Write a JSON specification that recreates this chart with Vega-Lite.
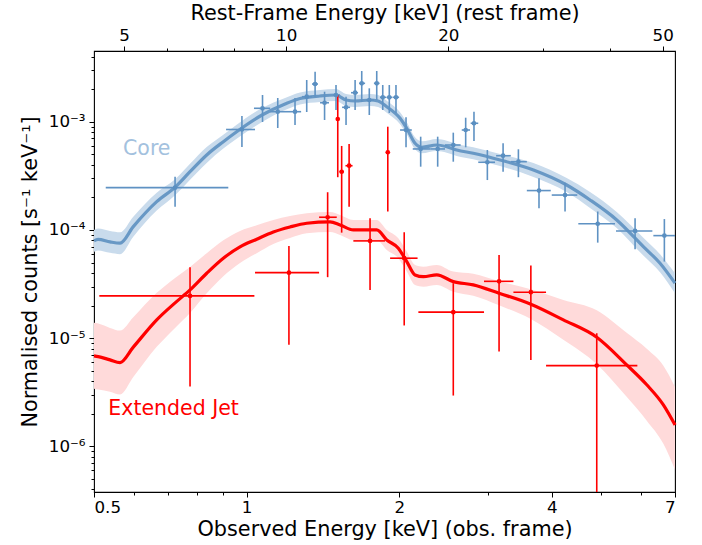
{
  "$schema": "https://vega.github.io/schema/vega-lite/v6.json",
  "width": 581,
  "height": 441,
  "autosize": {"type": "none"},
  "padding": {"left": 94, "top": 51, "right": 27, "bottom": 53},
  "background": "white",
  "config": {
    "view": {"stroke": "black", "strokeWidth": 1.1},
    "font": "DejaVu Sans",
    "axis": {"grid": false, "domain": false, "tickColor": "black", "tickWidth": 1, "labelColor": "black", "titleColor": "black", "labelFont": "DejaVu Sans", "titleFont": "DejaVu Sans", "labelFontSize": 16.7, "titleFontSize": 20.8, "titleFontWeight": "normal"}
  },
  "datasets": {
    "model": [
      {"comp": "Core", "E": 0.5, "y": 7.92e-5, "lo": 6.27e-5, "hi": 1.0e-4},
      {"comp": "Core", "E": 0.5092, "y": 8.17e-5, "lo": 6.47e-5, "hi": 1.032e-4},
      {"comp": "Core", "E": 0.5377, "y": 7.75e-5, "lo": 6.14e-5, "hi": 9.79e-5},
      {"comp": "Core", "E": 0.5627, "y": 7.54e-5, "lo": 5.97e-5, "hi": 9.52e-5},
      {"comp": "Core", "E": 0.5977, "y": 1.073e-4, "lo": 8.67e-5, "hi": 1.327e-4},
      {"comp": "Core", "E": 0.6648, "y": 1.826e-4, "lo": 1.508e-4, "hi": 2.211e-4},
      {"comp": "Core", "E": 0.7226, "y": 2.479e-4, "lo": 2.092e-4, "hi": 2.938e-4},
      {"comp": "Core", "E": 0.7734, "y": 3.45e-4, "lo": 2.91e-4, "hi": 4.09e-4},
      {"comp": "Core", "E": 0.8343, "y": 4.93e-4, "lo": 4.16e-4, "hi": 5.84e-4},
      {"comp": "Core", "E": 0.8997, "y": 6.54e-4, "lo": 5.64e-4, "hi": 7.59e-4},
      {"comp": "Core", "E": 0.9559, "y": 8.08e-4, "lo": 6.97e-4, "hi": 9.37e-4},
      {"comp": "Core", "E": 1.0727, "y": 1.153e-3, "lo": 9.94e-4, "hi": 1.337e-3},
      {"comp": "Core", "E": 1.1909, "y": 1.457e-3, "lo": 1.283e-3, "hi": 1.655e-3},
      {"comp": "Core", "E": 1.275, "y": 1.637e-3, "lo": 1.441e-3, "hi": 1.86e-3},
      {"comp": "Core", "E": 1.396, "y": 1.727e-3, "lo": 1.52e-3, "hi": 1.962e-3},
      {"comp": "Core", "E": 1.501, "y": 1.764e-3, "lo": 1.553e-3, "hi": 2.004e-3},
      {"comp": "Core", "E": 1.571, "y": 1.586e-3, "lo": 1.396e-3, "hi": 1.802e-3},
      {"comp": "Core", "E": 1.637, "y": 1.553e-3, "lo": 1.367e-3, "hi": 1.764e-3},
      {"comp": "Core", "E": 1.752, "y": 1.586e-3, "lo": 1.396e-3, "hi": 1.802e-3},
      {"comp": "Core", "E": 1.817, "y": 1.553e-3, "lo": 1.367e-3, "hi": 1.764e-3},
      {"comp": "Core", "E": 1.89, "y": 1.376e-3, "lo": 1.211e-3, "hi": 1.563e-3},
      {"comp": "Core", "E": 2.008, "y": 1.075e-3, "lo": 9.46e-4, "hi": 1.221e-3},
      {"comp": "Core", "E": 2.07, "y": 8.69e-4, "lo": 7.65e-4, "hi": 9.87e-4},
      {"comp": "Core", "E": 2.149, "y": 6.32e-4, "lo": 5.56e-4, "hi": 7.18e-4},
      {"comp": "Core", "E": 2.216, "y": 5.8e-4, "lo": 5.11e-4, "hi": 6.59e-4},
      {"comp": "Core", "E": 2.372, "y": 6.09e-4, "lo": 5.36e-4, "hi": 6.92e-4},
      {"comp": "Core", "E": 2.482, "y": 5.87e-4, "lo": 5.17e-4, "hi": 6.67e-4},
      {"comp": "Core", "E": 2.597, "y": 5.48e-4, "lo": 4.82e-4, "hi": 6.23e-4},
      {"comp": "Core", "E": 2.8, "y": 5.11e-4, "lo": 4.5e-4, "hi": 5.8e-4},
      {"comp": "Core", "E": 3.162, "y": 4.43e-4, "lo": 3.9e-4, "hi": 5.03e-4},
      {"comp": "Core", "E": 3.68, "y": 3.58e-4, "lo": 3.09e-4, "hi": 4.15e-4},
      {"comp": "Core", "E": 4.28, "y": 2.6e-4, "lo": 2.24e-4, "hi": 3.02e-4},
      {"comp": "Core", "E": 4.759, "y": 1.892e-4, "lo": 1.597e-4, "hi": 2.242e-4},
      {"comp": "Core", "E": 5.372, "y": 1.237e-4, "lo": 1.044e-4, "hi": 1.466e-4},
      {"comp": "Core", "E": 6.062, "y": 7.01e-5, "lo": 5.79e-5, "hi": 8.49e-5},
      {"comp": "Core", "E": 6.54, "y": 4.92e-5, "lo": 4.06e-5, "hi": 5.96e-5},
      {"comp": "Core", "E": 7.0, "y": 3.22e-5, "lo": 2.6e-5, "hi": 3.98e-5},
      {"comp": "Extended Jet", "E": 0.5, "y": 6.87e-6, "lo": 3.41e-6, "hi": 1.386e-5},
      {"comp": "Extended Jet", "E": 0.5099, "y": 6.76e-6, "lo": 3.35e-6, "hi": 1.363e-5},
      {"comp": "Extended Jet", "E": 0.5377, "y": 6.3e-6, "lo": 3.19e-6, "hi": 1.244e-5},
      {"comp": "Extended Jet", "E": 0.5627, "y": 5.95e-6, "lo": 3.01e-6, "hi": 1.175e-5},
      {"comp": "Extended Jet", "E": 0.5977, "y": 8.26e-6, "lo": 4.37e-6, "hi": 1.563e-5},
      {"comp": "Extended Jet", "E": 0.6648, "y": 1.476e-5, "lo": 8.31e-6, "hi": 2.621e-5},
      {"comp": "Extended Jet", "E": 0.7226, "y": 2.118e-5, "lo": 1.244e-5, "hi": 3.605e-5},
      {"comp": "Extended Jet", "E": 0.7734, "y": 2.79e-5, "lo": 1.711e-5, "hi": 4.55e-5},
      {"comp": "Extended Jet", "E": 0.8343, "y": 3.98e-5, "lo": 2.6e-5, "hi": 6.09e-5},
      {"comp": "Extended Jet", "E": 0.8997, "y": 5.48e-5, "lo": 3.74e-5, "hi": 8.03e-5},
      {"comp": "Extended Jet", "E": 0.9705, "y": 6.97e-5, "lo": 4.96e-5, "hi": 9.79e-5},
      {"comp": "Extended Jet", "E": 1.047, "y": 8.21e-5, "lo": 6.1e-5, "hi": 1.106e-4},
      {"comp": "Extended Jet", "E": 1.129, "y": 9.58e-5, "lo": 7.42e-5, "hi": 1.237e-4},
      {"comp": "Extended Jet", "E": 1.218, "y": 1.066e-4, "lo": 8.44e-5, "hi": 1.346e-4},
      {"comp": "Extended Jet", "E": 1.314, "y": 1.153e-4, "lo": 9.32e-5, "hi": 1.426e-4},
      {"comp": "Extended Jet", "E": 1.461, "y": 1.186e-4, "lo": 9.59e-5, "hi": 1.467e-4},
      {"comp": "Extended Jet", "E": 1.529, "y": 1.112e-4, "lo": 8.99e-5, "hi": 1.376e-4},
      {"comp": "Extended Jet", "E": 1.624, "y": 1.0e-4, "lo": 8.08e-5, "hi": 1.237e-4},
      {"comp": "Extended Jet", "E": 1.806, "y": 1.0e-4, "lo": 8.08e-5, "hi": 1.237e-4},
      {"comp": "Extended Jet", "E": 1.89, "y": 8.08e-5, "lo": 6.53e-5, "hi": 9.99e-5},
      {"comp": "Extended Jet", "E": 1.992, "y": 6.78e-5, "lo": 5.48e-5, "hi": 8.39e-5},
      {"comp": "Extended Jet", "E": 2.07, "y": 5.1e-5, "lo": 4.12e-5, "hi": 6.31e-5},
      {"comp": "Extended Jet", "E": 2.149, "y": 3.84e-5, "lo": 3.1e-5, "hi": 4.75e-5},
      {"comp": "Extended Jet", "E": 2.232, "y": 3.7e-5, "lo": 2.99e-5, "hi": 4.58e-5},
      {"comp": "Extended Jet", "E": 2.372, "y": 3.84e-5, "lo": 3.1e-5, "hi": 4.75e-5},
      {"comp": "Extended Jet", "E": 2.557, "y": 3.33e-5, "lo": 2.69e-5, "hi": 4.12e-5},
      {"comp": "Extended Jet", "E": 2.8, "y": 3.11e-5, "lo": 2.46e-5, "hi": 3.93e-5},
      {"comp": "Extended Jet", "E": 3.148, "y": 2.6e-5, "lo": 2.01e-5, "hi": 3.36e-5},
      {"comp": "Extended Jet", "E": 3.637, "y": 2.06e-5, "lo": 1.5e-5, "hi": 2.83e-5},
      {"comp": "Extended Jet", "E": 4.215, "y": 1.476e-5, "lo": 9.65e-6, "hi": 2.258e-5},
      {"comp": "Extended Jet", "E": 4.906, "y": 1.02e-5, "lo": 5.74e-6, "hi": 1.81e-5},
      {"comp": "Extended Jet", "E": 5.62, "y": 5.67e-6, "lo": 2.87e-6, "hi": 1.12e-5},
      {"comp": "Extended Jet", "E": 6.157, "y": 3.71e-6, "lo": 1.73e-6, "hi": 7.97e-6},
      {"comp": "Extended Jet", "E": 6.64, "y": 2.42e-6, "lo": 1.056e-6, "hi": 5.55e-6},
      {"comp": "Extended Jet", "E": 7.0, "y": 1.58e-6, "lo": 6.07e-7, "hi": 3.54e-6}
    ],
    "pts": [
      {"comp": "Core", "E": 0.7226, "Elo": 0.5274, "Ehi": 0.9202, "y": 2.458e-4, "ylo": 1.641e-4, "yhi": 3.106e-4},
      {"comp": "Core", "E": 0.979, "Elo": 0.911, "Ehi": 1.039, "y": 8.47e-4, "ylo": 5.84e-4, "yhi": 1.129e-3},
      {"comp": "Core", "E": 1.075, "Elo": 1.034, "Ehi": 1.113, "y": 1.33e-3, "ylo": 9.94e-4, "yhi": 1.764e-3},
      {"comp": "Core", "E": 1.152, "Elo": 1.113, "Ehi": 1.207, "y": 1.237e-3, "ylo": 8.75e-4, "yhi": 1.655e-3},
      {"comp": "Core", "E": 1.246, "Elo": 1.207, "Ehi": 1.281, "y": 1.237e-3, "ylo": 9.32e-4, "yhi": 1.655e-3},
      {"comp": "Core", "E": 1.314, "Elo": 1.286, "Ehi": 1.346, "y": 1.702e-3, "ylo": 1.229e-3, "yhi": 2.427e-3},
      {"comp": "Core", "E": 1.365, "Elo": 1.346, "Ehi": 1.383, "y": 2.229e-3, "ylo": 1.702e-3, "yhi": 2.895e-3},
      {"comp": "Core", "E": 1.425, "Elo": 1.396, "Ehi": 1.454, "y": 1.497e-3, "ylo": 1.037e-3, "yhi": 1.892e-3},
      {"comp": "Core", "E": 1.501, "Elo": 1.481, "Ehi": 1.529, "y": 1.764e-3, "ylo": 1.282e-3, "yhi": 2.182e-3},
      {"comp": "Core", "E": 1.571, "Elo": 1.543, "Ehi": 1.6, "y": 1.358e-3, "ylo": 9.32e-4, "yhi": 1.702e-3},
      {"comp": "Core", "E": 1.637, "Elo": 1.607, "Ehi": 1.659, "y": 1.853e-3, "ylo": 1.282e-3, "yhi": 2.427e-3},
      {"comp": "Core", "E": 1.687, "Elo": 1.667, "Ehi": 1.713, "y": 2.263e-3, "ylo": 1.53e-3, "yhi": 2.939e-3},
      {"comp": "Core", "E": 1.746, "Elo": 1.72, "Ehi": 1.783, "y": 1.586e-3, "ylo": 1.153e-3, "yhi": 2.034e-3},
      {"comp": "Core", "E": 1.806, "Elo": 1.783, "Ehi": 1.829, "y": 2.263e-3, "ylo": 1.586e-3, "yhi": 2.939e-3},
      {"comp": "Core", "E": 1.856, "Elo": 1.833, "Ehi": 1.884, "y": 1.68e-3, "ylo": 1.282e-3, "yhi": 2.182e-3},
      {"comp": "Core", "E": 1.912, "Elo": 1.888, "Ehi": 1.94, "y": 1.68e-3, "ylo": 1.203e-3, "yhi": 2.182e-3},
      {"comp": "Core", "E": 1.971, "Elo": 1.945, "Ehi": 1.999, "y": 1.68e-3, "ylo": 1.203e-3, "yhi": 2.182e-3},
      {"comp": "Core", "E": 2.063, "Elo": 2.008, "Ehi": 2.118, "y": 8.38e-4, "ylo": 5.8e-4, "yhi": 1.098e-3},
      {"comp": "Core", "E": 2.205, "Elo": 2.127, "Ehi": 2.308, "y": 5.6e-4, "ylo": 3.84e-4, "yhi": 7.27e-4},
      {"comp": "Core", "E": 2.382, "Elo": 2.308, "Ehi": 2.463, "y": 5.6e-4, "ylo": 3.84e-4, "yhi": 7.27e-4},
      {"comp": "Core", "E": 2.557, "Elo": 2.463, "Ehi": 2.644, "y": 6.09e-4, "ylo": 4.27e-4, "yhi": 7.92e-4},
      {"comp": "Core", "E": 2.705, "Elo": 2.657, "Ehi": 2.759, "y": 8.38e-4, "ylo": 5.8e-4, "yhi": 1.089e-3},
      {"comp": "Core", "E": 2.809, "Elo": 2.767, "Ehi": 2.864, "y": 9.67e-4, "ylo": 6.64e-4, "yhi": 1.237e-3},
      {"comp": "Core", "E": 2.985, "Elo": 2.864, "Ehi": 3.091, "y": 4.22e-4, "ylo": 2.89e-4, "yhi": 5.48e-4},
      {"comp": "Core", "E": 3.206, "Elo": 3.106, "Ehi": 3.32, "y": 4.85e-4, "ylo": 3.45e-4, "yhi": 6.32e-4},
      {"comp": "Core", "E": 3.437, "Elo": 3.32, "Ehi": 3.571, "y": 4.27e-4, "ylo": 3.07e-4, "yhi": 5.56e-4},
      {"comp": "Core", "E": 3.774, "Elo": 3.571, "Ehi": 3.981, "y": 2.31e-4, "ylo": 1.59e-4, "yhi": 3.0e-4},
      {"comp": "Core", "E": 4.248, "Elo": 3.999, "Ehi": 4.491, "y": 2.1e-4, "ylo": 1.48e-4, "yhi": 2.73e-4},
      {"comp": "Core", "E": 4.928, "Elo": 4.512, "Ehi": 5.33, "y": 1.14e-4, "ylo": 7.63e-5, "yhi": 1.48e-4},
      {"comp": "Core", "E": 5.839, "Elo": 5.354, "Ehi": 6.316, "y": 9.79e-5, "ylo": 6.63e-5, "yhi": 1.28e-4},
      {"comp": "Core", "E": 6.67, "Elo": 6.345, "Ehi": 7.0, "y": 8.86e-5, "ylo": 5.1e-5, "yhi": 1.26e-4},
      {"comp": "Extended Jet", "E": 0.7734, "Elo": 0.5122, "Ehi": 1.036, "y": 2.458e-5, "ylo": 3.57e-6, "yhi": 4.52e-5},
      {"comp": "Extended Jet", "E": 1.212, "Elo": 1.039, "Ehi": 1.39, "y": 4.03e-5, "ylo": 8.67e-6, "yhi": 7.12e-5},
      {"comp": "Extended Jet", "E": 1.445, "Elo": 1.39, "Ehi": 1.506, "y": 1.31e-4, "ylo": 3.66e-5, "yhi": 2.23e-4},
      {"comp": "Extended Jet", "E": 1.513, "Elo": 1.506, "Ehi": 1.52, "y": 1.059e-3, "ylo": 3.07e-4, "yhi": 1.764e-3},
      {"comp": "Extended Jet", "E": 1.54, "Elo": 1.525, "Ehi": 1.556, "y": 3.45e-4, "ylo": 9.44e-5, "yhi": 5.97e-4},
      {"comp": "Extended Jet", "E": 1.593, "Elo": 1.567, "Ehi": 1.618, "y": 3.92e-4, "ylo": 1.641e-4, "yhi": 6.22e-4},
      {"comp": "Extended Jet", "E": 1.752, "Elo": 1.624, "Ehi": 1.875, "y": 7.92e-5, "ylo": 2.79e-5, "yhi": 1.28e-4},
      {"comp": "Extended Jet", "E": 1.899, "Elo": 1.888, "Ehi": 1.91, "y": 5.22e-4, "ylo": 1.48e-4, "yhi": 8.99e-4},
      {"comp": "Extended Jet", "E": 2.046, "Elo": 1.919, "Ehi": 2.174, "y": 5.48e-5, "ylo": 1.31e-5, "yhi": 9.52e-5},
      {"comp": "Extended Jet", "E": 2.557, "Elo": 2.182, "Ehi": 2.94, "y": 1.74e-5, "ylo": 2.95e-6, "yhi": 3.22e-5},
      {"comp": "Extended Jet", "E": 3.148, "Elo": 2.94, "Ehi": 3.36, "y": 3.35e-5, "ylo": 7.52e-6, "yhi": 5.88e-5},
      {"comp": "Extended Jet", "E": 3.637, "Elo": 3.36, "Ehi": 3.897, "y": 2.66e-5, "ylo": 6.3e-6, "yhi": 4.68e-5},
      {"comp": "Extended Jet", "E": 4.906, "Elo": 3.897, "Ehi": 5.9, "y": 5.58e-6, "ylo": 1e-7, "yhi": 1.11e-5}
    ],
    "labels": [
      {"comp": "Core", "E": 0.5705, "y": 4.93e-4, "label": "Core"},
      {"comp": "Extended Jet", "E": 0.5336, "y": 1.957e-6, "label": "Extended Jet"}
    ]
  },
  "layer": [
    {
      "layer": [
        {
          "data": {"name": "model"},
          "mark": {"type": "area", "interpolate": "monotone"},
          "encoding": {
            "x": {"field": "E", "type": "quantitative", "scale": {"type": "log", "domain": [0.5, 7], "nice": false},
              "axis": {"orient": "bottom", "values": [0.5, 1, 2, 4, 7], "format": "~g", "tickSize": 5, "labelPadding": 2, "title": "Observed Energy [keV] (obs. frame)", "titlePadding": 4}},
            "y": {"field": "lo", "type": "quantitative", "scale": {"type": "log", "domain": [3.79e-7, 4.5e-3], "nice": false},
              "axis": {"orient": "left", "values": [1e-6, 1e-5, 1e-4, 1e-3], "tickSize": 5, "labelPadding": 4,
                "labelExpr": "'10' + (round(log(datum.value)/LN10) == -3 ? '⁻³' : round(log(datum.value)/LN10) == -4 ? '⁻⁴' : round(log(datum.value)/LN10) == -5 ? '⁻⁵' : '⁻⁶')",
                "title": "Normalised counts [s⁻¹ keV⁻¹]", "titlePadding": 8}},
            "y2": {"field": "hi"},
            "color": {"field": "comp", "type": "nominal", "scale": {"domain": ["Core", "Extended Jet"], "range": ["#c9dbec", "#ffdada"]}, "legend": null}
          }
        },
        {
          "data": {"name": "model"},
          "mark": {"type": "line", "interpolate": "monotone", "strokeWidth": 3.2},
          "encoding": {
            "x": {"field": "E", "type": "quantitative", "scale": {"type": "log", "domain": [0.5, 7], "nice": false},
              "axis": {"orient": "bottom", "values": [0.6, 0.7, 0.8, 0.9, 3, 5, 6], "labels": false, "tickSize": 3, "title": null}},
            "y": {"field": "y", "type": "quantitative", "scale": {"type": "log", "domain": [3.79e-7, 4.5e-3], "nice": false},
              "axis": {"orient": "left", "values": [4e-7, 5e-7, 6e-7, 7e-7, 8e-7, 9e-7, 2e-6, 3e-6, 4e-6, 5e-6, 6e-6, 7e-6, 8e-6, 9e-6, 2e-5, 3e-5, 4e-5, 5e-5, 6e-5, 7e-5, 8e-5, 9e-5, 2e-4, 3e-4, 4e-4, 5e-4, 6e-4, 7e-4, 8e-4, 9e-4, 2e-3, 3e-3, 4e-3], "labels": false, "tickSize": 3, "title": null}},
            "color": {"field": "comp", "type": "nominal", "scale": {"domain": ["Core", "Extended Jet"], "range": ["#6898c5", "#ff0000"]}, "legend": null}
          }
        },
        {
          "data": {"name": "pts"},
          "mark": {"type": "rule", "strokeWidth": 1.6, "clip": true},
          "encoding": {
            "x": {"field": "Elo", "type": "quantitative", "scale": {"type": "log", "domain": [0.5, 7], "nice": false}, "axis": null},
            "x2": {"field": "Ehi"},
            "y": {"field": "y", "type": "quantitative", "scale": {"type": "log", "domain": [3.79e-7, 4.5e-3], "nice": false}, "axis": null},
            "color": {"field": "comp", "type": "nominal", "scale": {"domain": ["Core", "Extended Jet"], "range": ["#5f92c3", "#ff0000"]}, "legend": null}
          }
        },
        {
          "data": {"name": "pts"},
          "mark": {"type": "rule", "strokeWidth": 1.6, "clip": true},
          "encoding": {
            "x": {"field": "E", "type": "quantitative", "scale": {"type": "log", "domain": [0.5, 7], "nice": false}, "axis": null},
            "y": {"field": "ylo", "type": "quantitative", "scale": {"type": "log", "domain": [3.79e-7, 4.5e-3], "nice": false}, "axis": null},
            "y2": {"field": "yhi"},
            "color": {"field": "comp", "type": "nominal", "scale": {"domain": ["Core", "Extended Jet"], "range": ["#5f92c3", "#ff0000"]}, "legend": null}
          }
        },
        {
          "data": {"name": "pts"},
          "mark": {"type": "circle", "size": 22, "opacity": 1},
          "encoding": {
            "x": {"field": "E", "type": "quantitative", "scale": {"type": "log", "domain": [0.5, 7], "nice": false}, "axis": null},
            "y": {"field": "y", "type": "quantitative", "scale": {"type": "log", "domain": [3.79e-7, 4.5e-3], "nice": false}, "axis": null},
            "color": {"field": "comp", "type": "nominal", "scale": {"domain": ["Core", "Extended Jet"], "range": ["#5a8fc1", "#ff0000"]}, "legend": null}
          }
        },
        {
          "data": {"name": "labels"},
          "mark": {"type": "text", "align": "left", "baseline": "alphabetic", "fontSize": 20.5, "font": "DejaVu Sans"},
          "encoding": {
            "x": {"field": "E", "type": "quantitative", "scale": {"type": "log", "domain": [0.5, 7], "nice": false}, "axis": null},
            "y": {"field": "y", "type": "quantitative", "scale": {"type": "log", "domain": [3.79e-7, 4.5e-3], "nice": false}, "axis": null},
            "text": {"field": "label"},
            "color": {"field": "comp", "type": "nominal", "scale": {"domain": ["Core", "Extended Jet"], "range": ["#a3c1de", "#ff0000"]}, "legend": null}
          }
        }
      ],
      "resolve": {"scale": {"color": "independent"}, "axis": {"x": "independent", "y": "independent"}}
    },
    {
      "data": {"values": [{"rest": 4.397}, {"rest": 52.7}]},
      "mark": {"type": "point", "opacity": 0},
      "encoding": {
        "x": {"field": "rest", "type": "quantitative", "scale": {"type": "log", "domain": [4.397, 52.7], "nice": false},
          "axis": {"orient": "top", "values": [5, 10, 20, 50], "format": "~g", "tickSize": 5, "labelPadding": 2, "title": "Rest-Frame Energy [keV] (rest frame)", "titlePadding": 4}}
      }
    },
    {
      "data": {"values": [{"rest": 4.397}, {"rest": 52.7}]},
      "mark": {"type": "point", "opacity": 0},
      "encoding": {
        "x": {"field": "rest", "type": "quantitative", "scale": {"type": "log", "domain": [4.397, 52.7], "nice": false},
          "axis": {"orient": "top", "values": [6, 7, 8, 9, 30, 40], "labels": false, "tickSize": 3, "title": null}}
      }
    }
  ],
  "resolve": {"scale": {"x": "independent"}}
}
